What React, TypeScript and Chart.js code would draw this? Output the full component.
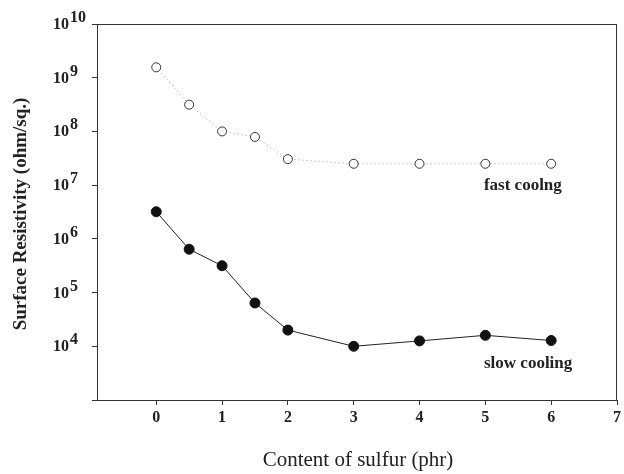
import React, { useEffect, useRef } from "react";
import { Chart, registerables } from "chart.js";

Chart.register(...registerables);

const sulfur = [0, 0.5, 1, 1.5, 2, 3, 4, 5, 6];
const fastCooling = [1.56e9, 3.15e8, 1.0e8, 7.9e7, 3.05e7, 2.5e7, 2.5e7, 2.5e7, 2.5e7];
const slowCooling = [3.2e6, 6.4e5, 3.16e5, 6.4e4, 2.0e4, 1.0e4, 1.26e4, 1.6e4, 1.28e4];
const xTicks = [0, 1, 2, 3, 4, 5, 6, 7];
const yTickExponents = [3, 4, 5, 6, 7, 8, 9, 10];
const yLabelExponents = [4, 5, 6, 7, 8, 9, 10];
const xTitle = "Content of sulfur (phr)";
const yTitle = "Surface Resistivity (ohm/sq.)";
const fastLabel = "fast coolng";
const slowLabel = "slow cooling";

const SERIF = '"Liberation Serif", "Times New Roman", serif';

const decorPlugin = {
  id: "decor",
  afterDraw(chart: any) {
    const { ctx, chartArea, scales } = chart;
    const y = scales.y;
    const x = scales.x;
    ctx.save();
    // frame
    ctx.strokeStyle = "#333";
    ctx.lineWidth = 1;
    ctx.strokeRect(chartArea.left + 0.5, chartArea.top + 0.5, chartArea.right - chartArea.left - 1, chartArea.bottom - chartArea.top);
    // y tick labels 10^n
    ctx.fillStyle = "#222";
    ctx.font = `bold 16px ${SERIF}`;
    ctx.textBaseline = "alphabetic";
    ctx.textAlign = "left";
    for (const e of yLabelExponents) {
      const py = y.getPixelForValue(Math.pow(10, e));
      ctx.fillText("10", 53, py + 5);
      ctx.fillText(String(e), 70, py - 2);
    }
    // y title
    ctx.save();
    ctx.translate(21, (chartArea.top + chartArea.bottom) / 2 + 2);
    ctx.rotate(-Math.PI / 2);
    ctx.font = `bold 19px ${SERIF}`;
    ctx.textAlign = "center";
    ctx.textBaseline = "middle";
    ctx.fillText(yTitle, 0, 0);
    ctx.restore();
    // x title
    ctx.font = `21px ${SERIF}`;
    ctx.textAlign = "center";
    ctx.textBaseline = "middle";
    ctx.fillText(xTitle, (chartArea.left + chartArea.right) / 2 + 1, 460);
    // annotations
    ctx.font = `bold 17px ${SERIF}`;
    ctx.fillText(fastLabel, x.getPixelForValue(5.57), y.getPixelForValue(1.0e7));
    ctx.fillText(slowLabel, x.getPixelForValue(5.65), y.getPixelForValue(4.84e3));
    ctx.restore();
  },
};

export default function App() {
  const ref = useRef<HTMLCanvasElement | null>(null);
  useEffect(() => {
    document.body.style.margin = "0";
    const canvas = ref.current!;
    const chart = new Chart(canvas, {
      type: "line",
      data: {
        datasets: [
          {
            label: "fast cooling",
            data: sulfur.map((s, i) => ({ x: s, y: fastCooling[i] })),
            borderColor: "#9a9a9a",
            borderWidth: 1,
            borderDash: [1, 3],
            pointRadius: 4.5,
            pointBackgroundColor: "#fff",
            pointBorderColor: "#333",
            pointBorderWidth: 1,
            tension: 0,
          },
          {
            label: "slow cooling",
            data: sulfur.map((s, i) => ({ x: s, y: slowCooling[i] })),
            borderColor: "#222",
            borderWidth: 1,
            pointRadius: 5,
            pointBackgroundColor: "#111",
            pointBorderColor: "#111",
            pointBorderWidth: 1,
            tension: 0,
          },
        ],
      },
      options: {
        animation: false,
        responsive: false,
        maintainAspectRatio: false,
        layout: { padding: { top: 24, right: 7, left: 0, bottom: 0 } },
        plugins: { legend: { display: false }, tooltip: { enabled: false }, title: { display: false } },
        scales: {
          x: {
            type: "linear",
            min: -0.9,
            max: 7,
            afterBuildTicks: (scale: any) => {
              scale.ticks = xTicks.map((v) => ({ value: v }));
            },
            afterFit: (scale: any) => {
              scale.height = 74;
            },
            ticks: {
              font: { family: SERIF, size: 16, weight: "bold" },
              color: "#222",
              padding: 3,
              maxRotation: 0,
              autoSkip: false,
              callback: (v: any) => String(v),
            },
            grid: { drawOnChartArea: false, drawTicks: true, tickLength: 5, color: "#333" },
            border: { display: true, color: "#333" },
          },
          y: {
            type: "logarithmic",
            min: 1e3,
            max: 1e10,
            afterBuildTicks: (scale: any) => {
              scale.ticks = yTickExponents.map((e) => ({ value: Math.pow(10, e) }));
            },
            afterFit: (scale: any) => {
              scale.width = 97;
            },
            ticks: { display: false },
            grid: { drawOnChartArea: false, drawTicks: true, tickLength: 5, color: "#333" },
            border: { display: true, color: "#333" },
          },
        },
      } as any,
      plugins: [decorPlugin],
    });
    return () => chart.destroy();
  }, []);
  return (
    <div style={{ width: 624, height: 474, background: "#fff" }}>
      <canvas ref={ref} width={624} height={474} style={{ display: "block" }} />
    </div>
  );
}
